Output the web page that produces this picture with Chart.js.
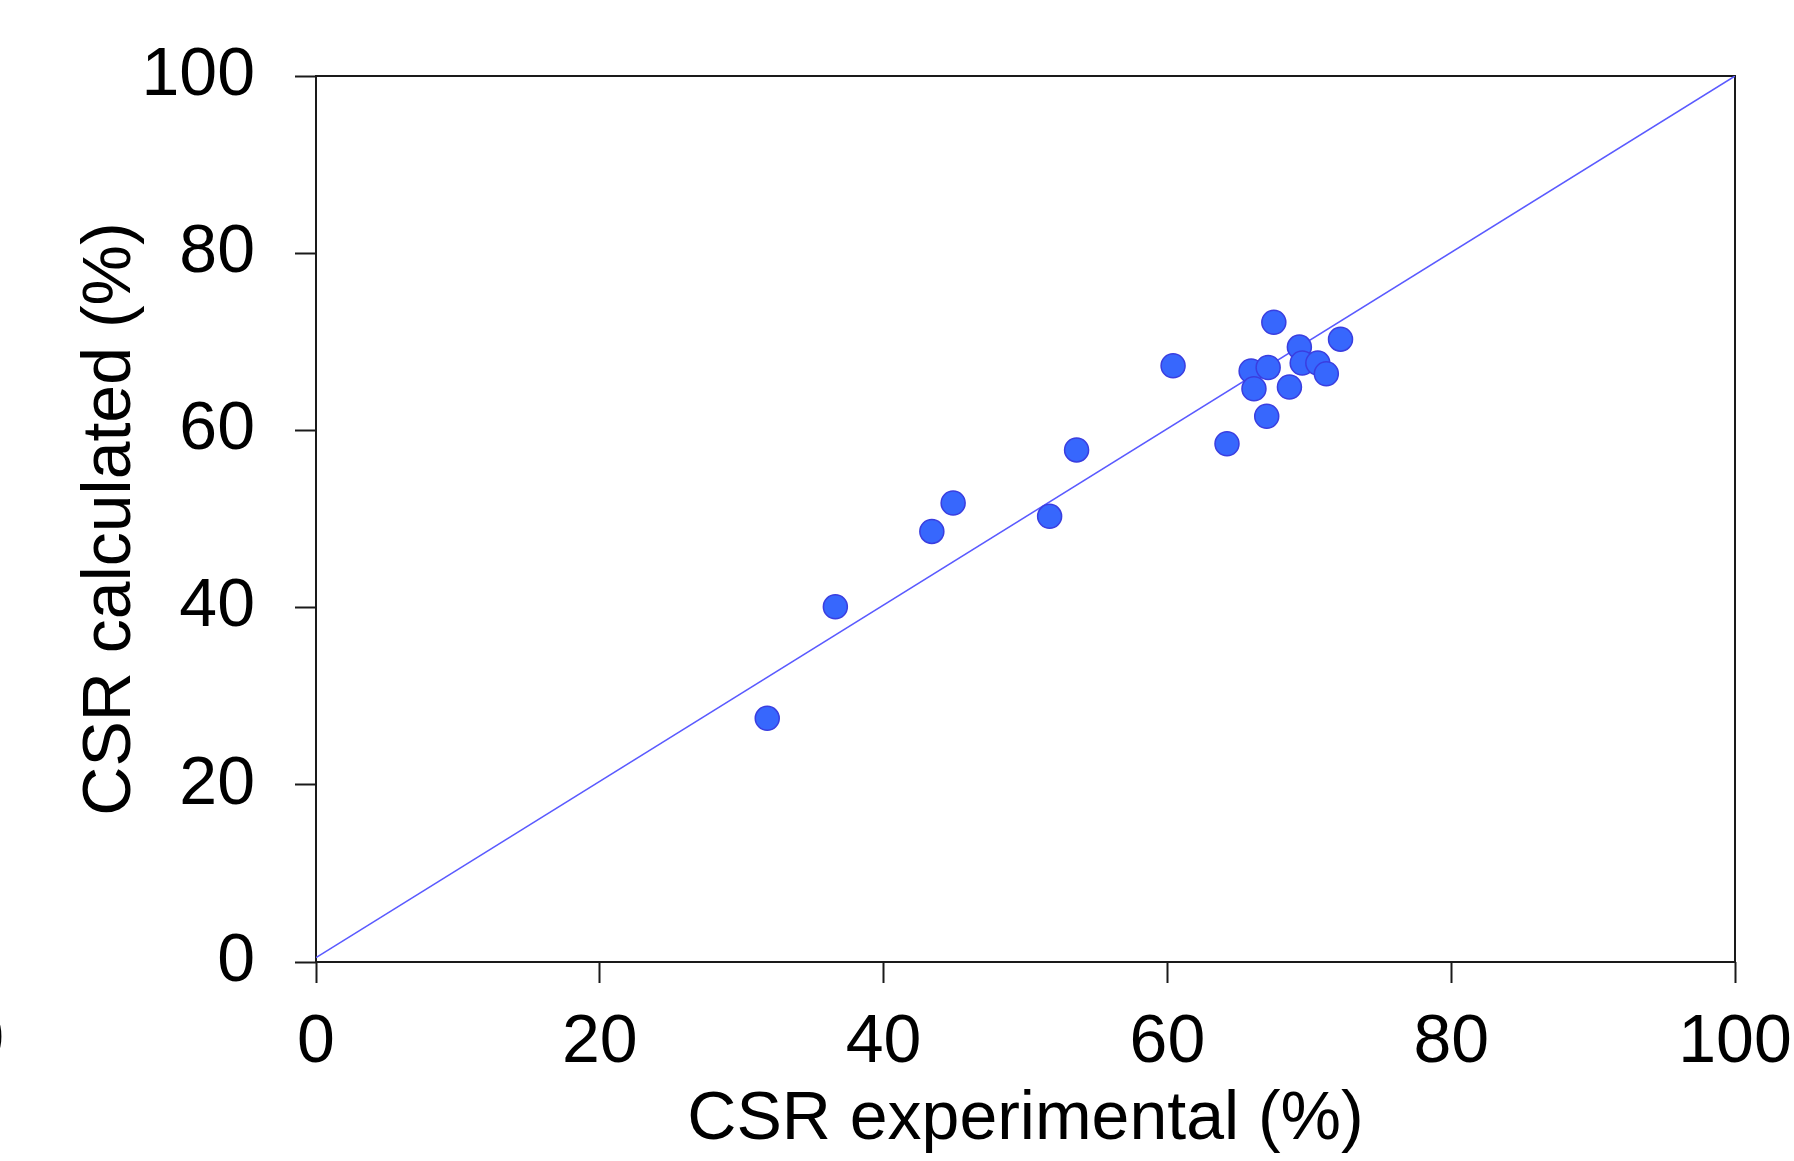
<!DOCTYPE html>
<html>
<head>
<meta charset="utf-8">
<script src="https://cdn.jsdelivr.net/npm/chart.js@4/dist/chart.umd.min.js"></script>
<style>
  html, body { margin: 0; padding: 0; background: #fff; }
  #wrap { width: 1794px; height: 1161px; }
</style>
</head>
<body>
<div id="wrap"><canvas id="csrChart" width="1794" height="1161"></canvas></div>
<script>
// CSR experimental vs calculated (%)
const csrExperimental = [31.8, 36.6, 43.4, 44.9, 51.7, 53.6, 60.4, 64.2, 65.9, 66.1, 67.0, 67.1, 67.5, 68.6, 69.3, 69.5, 70.6, 71.2, 72.2];
const csrCalculated   = [27.5, 40.1, 48.6, 51.8, 50.3, 57.8, 67.3, 58.5, 66.7, 64.7, 61.6, 67.1, 72.2, 64.9, 69.4, 67.6, 67.6, 66.4, 70.3];
const diagonalX = [0, 100];
const diagonalY = [0.5, 100];
const tickValues = [0, 20, 40, 60, 80, 100];

const FONT = 'Liberation Sans, Arial, sans-serif';

const points = csrExperimental.map((x, i) => ({ x: x, y: csrCalculated[i] }));
const diagonal = diagonalX.map((x, i) => ({ x: x, y: diagonalY[i] }));

// box around the plot area + the clipped label at the left edge
const framePlugin = {
  id: 'frame',
  beforeDatasetsDraw(chart) {
    const { ctx, chartArea: a } = chart;
    ctx.save();
    ctx.strokeStyle = '#1a1a1a';
    ctx.lineWidth = 2;
    ctx.strokeRect(a.left, a.top, a.right - a.left, a.bottom - a.top);
    ctx.restore();
  },
  afterDraw(chart) {
    const ctx = chart.ctx;
    ctx.save();
    ctx.fillStyle = '#000';
    ctx.font = '68px ' + FONT;
    ctx.textAlign = 'right';
    ctx.textBaseline = 'middle';
    ctx.fillText('0', 4, 1041);
    ctx.restore();
  }
};

const axisCommon = {
  type: 'linear',
  min: 0,
  max: 100,
  border: { display: false },
  grid: {
    display: true,
    drawOnChartArea: false,
    drawTicks: true,
    tickLength: 21,
    tickColor: '#1a1a1a',
    tickWidth: 2
  }
};

const config = {
  type: 'scatter',
  data: {
    datasets: [{
      label: 'CSR',
      data: points,
      backgroundColor: '#3767fd',
      borderColor: '#3a3ee0',
      borderWidth: 1.5,
      pointRadius: 12,
      pointHoverRadius: 12
    }, {
      label: 'y = x',
      data: diagonal,
      showLine: true,
      borderColor: '#5a5aff',
      borderWidth: 1.5,
      pointRadius: 0,
      fill: false
    }]
  },
  options: {
    responsive: false,
    animation: false,
    layout: { padding: { left: 0, right: 59, top: 76, bottom: 0 } },
    plugins: {
      legend: { display: false },
      tooltip: { enabled: false }
    },
    scales: {
      x: Object.assign({}, axisCommon, {
        position: 'bottom',
        afterBuildTicks: s => { s.ticks = tickValues.map(v => ({ value: v })); },
        afterFit: s => { s.height = 199; s.paddingLeft = 0; s.paddingRight = 0; },
        ticks: { color: '#000', padding: 19, maxRotation: 0, font: { family: FONT, size: 68 } },
        title: {
          display: true,
          text: 'CSR experimental (%)',
          color: '#000',
          padding: { top: 0, bottom: 0 },
          font: { family: FONT, size: 68 }
        }
      }),
      y: Object.assign({}, axisCommon, {
        position: 'left',
        afterBuildTicks: s => { s.ticks = tickValues.map(v => ({ value: v })); },
        afterFit: s => { s.width = 316; s.paddingTop = 0; s.paddingBottom = 0; },
        ticks: { color: '#000', padding: 40, font: { family: FONT, size: 68 } },
        title: {
          display: true,
          text: 'CSR calculated (%)',
          color: '#000',
          padding: { top: 70, bottom: 0 },
          font: { family: FONT, size: 68 }
        }
      })
    }
  },
  plugins: [framePlugin]
};

const csrChart = new Chart(document.getElementById('csrChart').getContext('2d'), config);
</script>
</body>
</html>
